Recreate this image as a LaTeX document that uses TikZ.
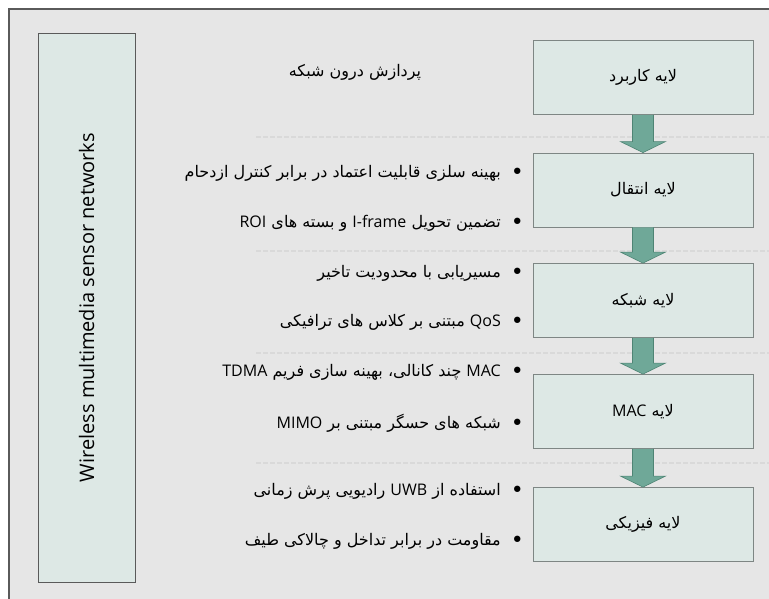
\documentclass[tikz,border=0pt]{standalone}
\usepackage{fontspec}
\setmainfont{DejaVu Sans}
\newfontfamily\farsi[Script=Arabic]{DejaVu Sans}
\newfontfamily\latin{Open Sans}
\TeXXeTstate=1
\usetikzlibrary{calc}

\definecolor{framebg}{HTML}{E6E6E6}
\definecolor{framedraw}{HTML}{5A5A5A}
\definecolor{layerfill}{HTML}{DDE8E5}
\definecolor{layerdraw}{HTML}{7E8684}
\definecolor{arrowfill}{HTML}{6FA898}
\definecolor{arrowdraw}{HTML}{4E8474}

\newcommand{\fa}[1]{{\farsi\beginR #1\endR}}
\newcommand{\en}[1]{\beginL{\latin #1}\endL}
\newcommand{\bul}{\lower2.5pt\hbox{\fontsize{22}{22}\selectfont •}\hspace{10pt}}

\tikzset{
	layer/.style={draw=layerdraw, fill=layerfill, line width=0.8pt, minimum width=220pt, minimum height=74pt, inner sep=0pt, font=\fontsize{16}{18}\selectfont},
	sidebox/.style={draw=framedraw, fill=layerfill, line width=0.8pt, minimum width=549pt, minimum height=97pt, inner sep=0pt, font=\latin\fontsize{20}{23}\selectfont},
	item/.style={anchor=east, inner sep=0pt, font=\fontsize{16}{18}\selectfont},
	sep/.style={draw=gray!30, line width=1.2pt, dash pattern=on 5pt off 2pt},
	flow/.style={fill=arrowfill, draw=arrowdraw, line width=0.6pt}
}

\begin{document}
\begin{tikzpicture}[x=1pt,y=-1pt]
	\useasboundingbox (0,0) rectangle (769,598);
	\clip (0,0) rectangle (769,598);
	\filldraw[fill=framebg, draw=framedraw, line width=1.2pt] (9,9) rectangle (790,620);
	
	% separators
	\foreach \y in {137,251,353,463}
		\draw[sep] (256,\y) -- (769,\y);
	
	\node[sidebox, rotate=90] (wmsn) at (86.5,307.5) {Wireless multimedia sensor networks};
	
	% layers
	\node[layer] (app) at (643,77.5) {\fa{لایه کاربرد}};
	\node[layer] (trans) at (643,190) {\fa{لایه انتقال}};
	\node[layer] (net) at (643,300.5) {\fa{لایه شبکه}};
	\node[layer] (mac) at (643,411.5) {\fa{لایه \en{MAC}}};
	\node[layer] (phy) at (643,524.5) {\fa{لایه فیزیکی}};
	
	\foreach \a/\b in {app/trans,trans/net,net/mac,mac/phy}
		\draw[flow] ($(\a.south)+(-10.5,0)$) -- ($(\b.north)+(-10.5,-11)$) -- ($(\b.north)+(-22.5,-11)$) -- (\b.north) -- ($(\b.north)+(22.5,-11)$) -- ($(\b.north)+(10.5,-11)$) -- ($(\a.south)+(10.5,0)$);
	
	% features
	\node[item, anchor=center] (inproc) at (355,72) {\fa{پردازش درون شبکه}};
	\node[item] (reliab) at (524,173) {\fa{\bul بهینه سلزی قابلیت اعتماد در برابر کنترل ازدحام}};
	\node[item] (iframe) at (524,223) {\fa{\bul تضمین تحویل \en{I-frame} و بسته های \en{ROI}}};
	\node[item] (route) at (524,273) {\fa{\bul مسیریابی با محدودیت تاخیر}};
	\node[item] (qos) at (524,322) {\fa{\bul \en{QoS} مبتنی بر کلاس های ترافیکی}};
	\node[item] (tdma) at (524,372) {\fa{\bul \en{MAC} چند کانالی، بهینه سازی فریم \en{TDMA}}};
	\node[item] (mimo) at (524,423) {\fa{\bul شبکه های حسگر مبتنی بر \en{MIMO}}};
	\node[item] (uwb) at (524,491) {\fa{\bul استفاده از \en{UWB} رادیویی پرش زمانی}};
	\node[item] (agile) at (524,541) {\fa{\bul مقاومت در برابر تداخل و چالاکی طیف}};
\end{tikzpicture}
\end{document}
